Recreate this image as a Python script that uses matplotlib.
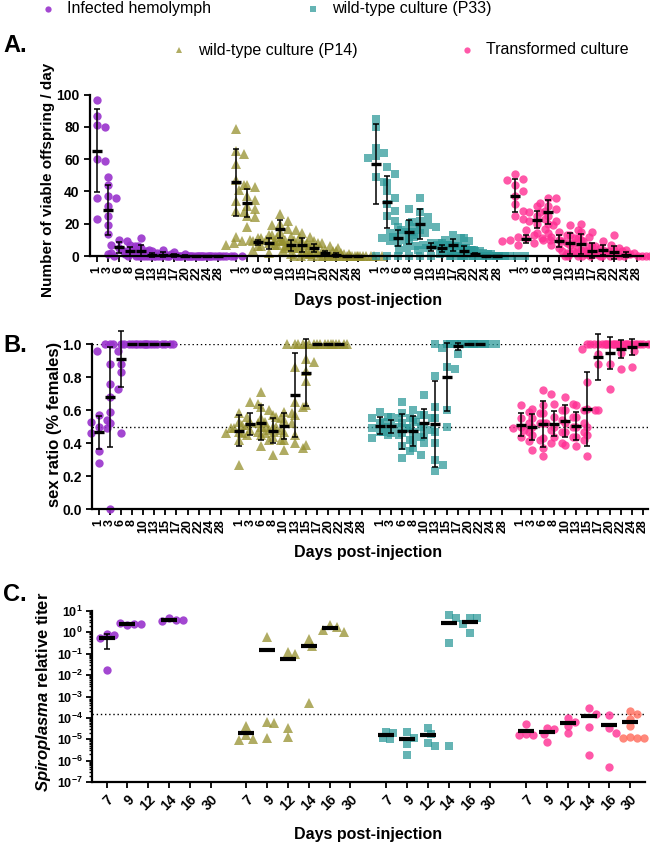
import numpy as np
import matplotlib
matplotlib.use("Agg")
import matplotlib.pyplot as plt
from matplotlib.ticker import FixedLocator, LogLocator, NullFormatter

plt.rcParams['font.family'] = ['Liberation Sans', 'DejaVu Sans']
plt.rcParams['font.weight'] = 'bold'
plt.rcParams['mathtext.fontset'] = 'custom'
plt.rcParams['mathtext.rm'] = 'Liberation Sans:bold'
plt.rcParams['mathtext.bf'] = 'Liberation Sans:bold'
plt.rcParams['mathtext.it'] = 'Liberation Sans:italic:bold'
plt.rcParams['axes.linewidth'] = 1.6

# ---------------- data ----------------
groups = ['Infected hemolymph', 'wild-type culture (P14)', 'wild-type culture (P33)', 'Transformed culture']
days_ab = ['1', '3', '6', '8', '10', '13', '15', '17', '20', '22', '24', '28']
days_c = ['7', '9', '12', '14', '16', '30']

# A. viable offspring / day
a_hemo = [[97, 87, 81, 80, 60, 59, 36, 23],
          [49, 44, 37, 36, 31, 25, 19, 13.5, 1],
          [10, 9, 7, 6, 5, 3, 2, 1],
          [7, 6, 4, 3, 2, 1, 0, 0],
          [11, 5, 4, 3, 2, 1, 1, 0],
          [3, 1, 0, 0, 0, 0, 0],
          [4, 1, 0, 0, 0, 0, 0],
          [2.5, 0, 0, 0, 0, 0, 0],
          [1.5, 0, 0, 0, 0, 0, 0],
          [0, 0, 0, 0, 0, 0],
          [0, 0, 0, 0, 0, 0],
          [0, 0, 0, 0, 0, 0]]
a_p14 = [[79, 65, 63, 57, 47, 44, 34, 28, 27, 12],
         [44, 43, 41, 37, 35, 31, 29, 25, 24, 18],
         [11, 10, 10, 9, 9, 9, 8, 7, 7, 6],
         [13, 12, 11, 10, 9, 8, 7, 6, 5, 4, 2],
         [26, 22, 20, 19, 17, 16, 15, 13, 10, 7],
         [12, 11, 9, 8, 7, 7, 6, 5, 4, 3, 1],
         [14, 12, 10, 9, 8, 7, 6, 5, 3, 1, 0],
         [9, 8, 7, 6, 5, 5, 4, 3, 2, 1],
         [4, 3, 2, 2, 1, 1, 0, 0],
         [3, 1, 0, 0, 0, 0, 0],
         [0, 0, 0, 0, 0, 0, 0],
         [0, 0, 0, 0, 0, 0, 0]]
a_p33 = [[85, 80, 67, 64, 62, 61, 49, 46, 0],
         [55, 51, 45, 40, 36, 32, 28, 25, 22, 0],
         [18, 15, 14, 13, 12, 11, 10, 9, 8, 0],
         [29, 20, 18, 16, 15, 14, 13, 12, 10, 0],
         [36, 27, 24, 22, 21, 19, 18, 16, 15, 0],
         [8, 8, 7, 7, 6, 6, 5, 5, 4, 4, 0],
         [8, 7, 6, 6, 5, 5, 4, 4, 3, 0],
         [13, 11, 10, 9, 8, 7, 6, 5, 4, 3, 0],
         [11, 5, 4, 3, 3, 2, 1, 1, 0, 0],
         [3, 2, 1, 1, 0, 0, 0],
         [0, 0, 0, 0, 0, 0, 0],
         [0, 0, 0, 0, 0, 0, 0]]
a_trans = [[51, 48, 47, 44, 40, 37, 32, 28, 25, 23],
           [16, 13, 12, 11, 11, 10, 10, 9, 8, 7],
           [31, 28, 27, 25, 23, 22, 20, 19, 17, 14],
           [36, 36, 33, 31, 29, 27, 25, 22, 20, 14],
           [15, 13, 12, 11, 10, 10, 9, 8, 7, 5, 2],
           [19, 16, 13, 11, 9, 7, 5, 3, 2, 1, 0],
           [20, 15, 12, 10, 8, 6, 4, 3, 2, 1, 0],
           [15, 6, 5, 4, 3, 2, 1, 1, 0, 0, 0],
           [9, 7, 6, 5, 4, 3, 2, 1, 1, 0],
           [13, 4, 3, 2, 1, 1, 0, 0, 0, 0],
           [4, 2, 1, 0, 0, 0, 0, 0],
           []]

# B. sex ratio
b_hemo = [[0.57, 0.54, 0.53, 0.50, 0.49, 0.46, 0.35, 0.28],
          [1.0, 0.96, 0.88, 0.76, 0.73, 0.68, 0.59, 0.52, 0.0],
          [1.0, 1.0, 1.0, 1.0, 1.0, 1.0, 0.96, 0.88, 0.83, 0.46],
          [1.0, 1.0, 1.0, 1.0],
          [1.0, 1.0, 1.0],
          [1.0, 1.0, 1.0, 1.0],
          [1.0, 1.0, 1.0],
          [], [], [], [], []]
b_p14 = [[0.58, 0.56, 0.53, 0.51, 0.49, 0.47, 0.45, 0.42, 0.27],
         [0.65, 0.64, 0.53, 0.52, 0.51, 0.5, 0.49, 0.48, 0.47, 0.47, 0.46, 0.46],
         [0.71, 0.62, 0.6, 0.55, 0.5, 0.48, 0.45, 0.42, 0.38],
         [0.57, 0.55, 0.53, 0.5, 0.48, 0.46, 0.44, 0.42, 0.33],
         [0.59, 0.58, 0.56, 0.54, 0.52, 0.5, 0.47, 0.42, 0.36],
         [1.0, 1.0, 1.0, 0.86, 0.65, 0.62, 0.57, 0.45, 0.40, 0.37],
         [1.0, 1.0, 1.0, 0.91, 0.89, 0.84, 0.78, 0.63, 0.39],
         [1.0, 1.0, 1.0, 1.0],
         [1.0, 1.0, 1.0, 1.0],
         [1.0, 1.0, 1.0],
         [], []]
b_p33 = [[0.59, 0.56, 0.55, 0.52, 0.5, 0.49, 0.47, 0.45, 0.43],
         [0.56, 0.55, 0.53, 0.51, 0.5, 0.49, 0.47, 0.46, 0.45],
         [0.65, 0.58, 0.55, 0.52, 0.49, 0.46, 0.42, 0.38, 0.35, 0.31],
         [0.6, 0.57, 0.54, 0.5, 0.47, 0.44, 0.42, 0.37, 0.33],
         [0.69, 0.57, 0.55, 0.53, 0.5, 0.48, 0.45, 0.4],
         [1.0, 0.81, 0.62, 0.55, 0.47, 0.4, 0.3, 0.27, 0.23],
         [1.0, 1.0, 0.86, 0.85, 0.6, 0.5],
         [1.0, 1.0, 1.0, 1.0, 0.98, 0.94],
         [1.0, 1.0, 1.0, 1.0],
         [1.0, 1.0, 1.0, 1.0],
         [], []]
b_trans = [[0.63, 0.59, 0.55, 0.52, 0.5, 0.49, 0.47, 0.44, 0.41],
           [0.61, 0.58, 0.55, 0.52, 0.5, 0.48, 0.45, 0.42, 0.36],
           [0.72, 0.7, 0.63, 0.58, 0.52, 0.48, 0.43, 0.4, 0.37, 0.32],
           [0.64, 0.6, 0.56, 0.54, 0.52, 0.5, 0.47, 0.44, 0.4],
           [0.68, 0.64, 0.6, 0.56, 0.52, 0.5, 0.47, 0.44, 0.39],
           [0.63, 0.6, 0.56, 0.52, 0.5, 0.47, 0.44, 0.42, 0.38],
           [1.0, 0.77, 0.61, 0.6, 0.5, 0.45, 0.32],
           [1.0, 1.0, 1.0, 1.0, 0.97, 0.94, 0.88, 0.6],
           [1.0, 1.0, 1.0, 1.0, 1.0, 0.96, 0.88, 0.73],
           [1.0, 1.0, 1.0, 1.0, 1.0, 0.95, 0.85],
           [1.0, 1.0, 1.0, 1.0, 1.0, 1.0, 1.0, 0.86],
           [1.0, 1.0, 1.0, 1.0, 1.0]]

# C. Spiroplasma relative titer
c_hemo = [[0.8, 0.72, 0.55, 0.018], [2.3, 2.5, 2.7, 2.6], [], [4.6, 3.8, 3.3, 3.6], [], []]
c_p14 = [[4.2e-5, 1.6e-5, 1e-5, 9e-6], [0.63, 6.3e-5, 5.6e-5, 1.1e-5],
         [0.125, 0.093, 3.3e-5, 1.25e-5], [0.47, 0.23, 5.2e-4], [2.1, 1.8, 1.3, 1.0], []]
c_p33 = [[2.3e-5, 2e-5, 1.1e-5, 1e-5], [2.3e-5, 1.2e-5, 5.9e-6, 1.9e-6],
         [3.3e-5, 1.7e-5, 6.5e-6, 5e-6], [6.5, 4.5, 0.33, 4.6e-6], [4.8, 4.5, 2.6, 0.9], []]
c_trans = [[5e-5, 1.7e-5, 1.6e-5, 1.5e-5], [3.3e-5, 3.1e-5, 1.7e-5, 7.2e-6],
           [1.0e-4, 6.7e-5, 4.2e-5, 1.9e-5], [2.8e-4, 1.5e-4, 3.9e-5, 1.9e-6],
           [1.3e-4, 3.3e-5, 2e-5, 5.3e-7],
           [2e-4, 1.5e-4, 9e-5, 4e-5, 1.3e-5, 1.2e-5, 1.2e-5, 1.1e-5]]
c_threshold = 1.5e-4

# ---------------- style ----------------
colors = ['#9933CC', '#96902F', '#2A9898', '#FF2E93']
alphas = [0.9, 0.75, 0.72, 0.8]
markers = ['o', '^', 's', 'o']
msizes = [6.0, 6.6, 5.6, 6.0]
c_special = {(3, 5): '#FF6A5A'}

W, H = 650, 846
fig = plt.figure(figsize=(W / 100, H / 100), dpi=100)

lax = fig.add_axes([0, 0, 1, 1])
lax.set_xlim(0, W)
lax.set_ylim(H, 0)
lax.axis('off')


def px_axes(left, top, right, bottom):
    return fig.add_axes([left / W, 1 - bottom / H, (right - left) / W, (bottom - top) / H])


def spread(ax, x0, vals, mind=8.0):
    # simple swarm: push points sideways (in pixels) until they stop overlapping
    pts = ax.transData.transform(np.column_stack([np.full(len(vals), x0), vals]))
    placed = []
    for px, py in pts:
        k = 0
        while True:
            off = ((k + 1) // 2) * (1 if k % 2 else -1) * mind * 0.5
            cx = px + off
            if all(np.hypot(cx - qx, py - qy) >= mind for qx, qy in placed):
                break
            k += 1
        placed.append((cx, py))
    return ax.transData.inverted().transform(placed)[:, 0]


def draw_panel(ax, data, gap, err_groups=(0, 1, 2, 3), bar_ms=6.5, bar_mew=2.4, special={}, mind=8.0):
    for g, series in enumerate(data):
        for i, vals in enumerate(series):
            if len(vals) == 0:
                continue
            x0 = g * gap + i
            vals = np.array(vals, dtype=float)
            xs = spread(ax, x0, vals, mind)
            col = special.get((g, i), colors[g])
            ax.plot(xs, vals, linestyle='none', marker=markers[g], ms=msizes[g],
                    color=col, alpha=alphas[g], mew=0, clip_on=False, zorder=2)
            m = vals.mean()
            sd = vals.std(ddof=1) if len(vals) > 1 else 0
            if g in err_groups and sd > 0:
                ax.errorbar(x0, m, yerr=sd, fmt='none', ecolor='black', elinewidth=1.1,
                            capsize=2.5, capthick=1.1, zorder=3, clip_on=False)
            ax.plot(x0, m, marker='_', color='black', ms=bar_ms, mew=bar_mew,
                    zorder=4, clip_on=False)


def style_axis(ax, positions, labels, rot):
    ax.spines['top'].set_visible(False)
    ax.spines['right'].set_visible(False)
    ax.set_xticks(positions)
    if rot == 90:
        ax.set_xticklabels(labels, rotation=90, fontsize=9, fontweight='bold')
    else:
        ax.set_xticklabels(labels, rotation=45, ha='right', rotation_mode='anchor',
                           fontsize=10, fontweight='bold')
    ax.tick_params(axis='both', direction='out', length=4, width=1.3)
    ax.tick_params(axis='y', labelsize=10)
    for t in ax.get_yticklabels():
        t.set_fontweight('bold')


# ---------------- panel A ----------------
gapA = 12.62
axA = px_axes(90, 94.7, 643, 256)
axA.set_xlim(-0.61, 49.44)
axA.set_ylim(0, 100)
axA.set_yticks([0, 20, 40, 60, 80, 100])
posA = [g * gapA + i for g in range(4) for i in range(len(days_ab))]
style_axis(axA, posA, days_ab * 4, 90)
draw_panel(axA, [a_hemo, a_p14, a_p33, a_trans], gapA)

# ---------------- panel B ----------------
gapB = 12.65
axB = px_axes(92, 344.3, 648, 509)
axB.set_xlim(-0.59, 49.41)
axB.set_ylim(0, 1.0)
axB.set_yticks([0, 0.2, 0.4, 0.6, 0.8, 1.0])
axB.set_yticklabels(['0.0', '0.2', '0.4', '0.6', '0.8', '1.0'])
posB = [g * gapB + i for g in range(4) for i in range(len(days_ab))]
style_axis(axB, posB, days_ab * 4, 90)
for yv in (1.0, 0.5):
    axB.axhline(yv, color='black', lw=1.0, ls=(0, (1, 2)), zorder=1)
draw_panel(axB, [b_hemo, b_p14, b_p33, b_trans], gapB)

# ---------------- panel C ----------------
gapC = 6.73
axC = px_axes(92, 611, 645, 782)
axC.set_yscale('log')
axC.set_xlim(-0.70, 25.9)
axC.set_ylim(1e-7, 10)
exps = list(range(-7, 2))
axC.yaxis.set_major_locator(FixedLocator([10.0 ** e for e in exps]))
axC.set_yticklabels([r'$\mathbf{10^{%d}}$' % e for e in exps])
axC.yaxis.set_minor_locator(LogLocator(base=10, subs=np.arange(2, 10), numticks=20))
axC.yaxis.set_minor_formatter(NullFormatter())
posC = [g * gapC + i for g in range(4) for i in range(len(days_c))]
style_axis(axC, posC, days_c * 4, 45)
axC.tick_params(axis='y', labelsize=9, pad=2.5)
axC.tick_params(axis='y', which='minor', length=2.5, width=1.0)
axC.axhline(c_threshold, color='black', lw=1.0, ls=(0, (1, 2)), zorder=1)
draw_panel(axC, [c_hemo, c_p14, c_p33, c_trans], gapC, err_groups=(0,),
           bar_ms=11, bar_mew=3.0, special=c_special, mind=7.0)

# ---------------- labels ----------------
fig.text(48 / W, 1 - 180 / H, 'Number of viable offspring / day', rotation=90,
         ha='center', va='center', fontsize=11, fontweight='bold')
fig.text(55 / W, 1 - 424 / H, 'sex ratio (% females)', rotation=90,
         ha='center', va='center', fontsize=12, fontweight='bold')
fig.text(44 / W, 1 - 692 / H, r'$\mathit{Spiroplasma}$ relative titer', rotation=90,
         ha='center', va='center', fontsize=12, fontweight='bold')
for yy in (300, 552, 834):
    fig.text(368 / W, 1 - yy / H, 'Days post-injection', ha='center', va='center',
             fontsize=11.5, fontweight='bold')
for lab, yy in (('A.', 45), ('B.', 345), ('C.', 594)):
    fig.text(3 / W, 1 - yy / H, lab, ha='left', va='center', fontsize=17, fontweight='bold')

# legend
leg_pos = [(48, 9), (179, 50), (313, 9), (467, 50)]
for g, (lx, ly) in enumerate(leg_pos):
    lax.plot(lx, ly, marker=markers[g], ms=4.5, color=colors[g], alpha=alphas[g], mew=0)
    lax.text(lx + 19, ly, groups[g], ha='left', va='center', fontsize=11.5,
             fontweight='normal')

fig.savefig('out.png', dpi=100)
